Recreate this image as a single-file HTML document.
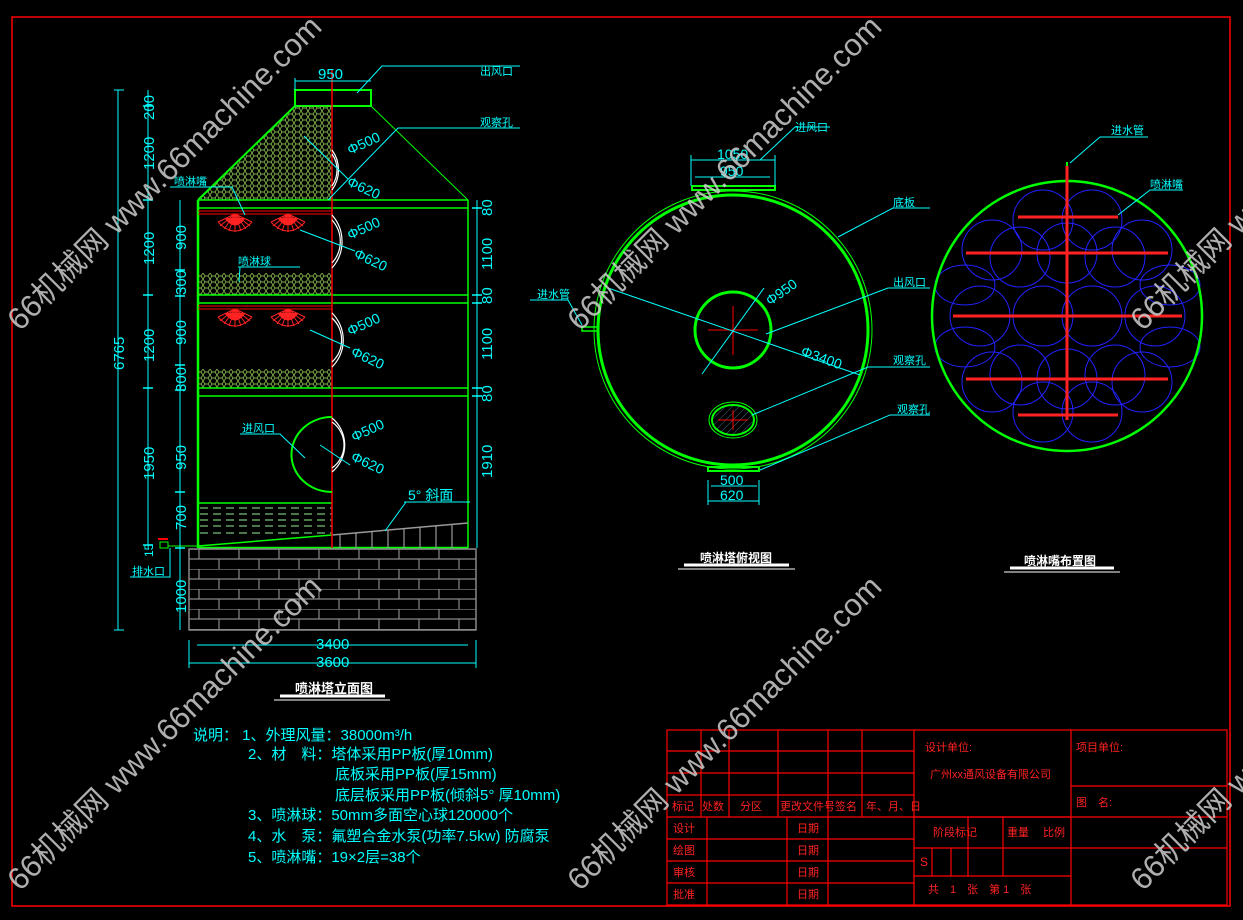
<!DOCTYPE html>
<html><head><meta charset="utf-8"><style>
html,body{margin:0;padding:0;background:#000;}
svg{display:block;}
text{font-family:"Liberation Sans","Noto Sans CJK SC",sans-serif;}
</style></head><body>
<svg width="1243" height="920" viewBox="0 0 1243 920" xmlns="http://www.w3.org/2000/svg">
<defs>
<pattern id="hex" width="7" height="6" patternUnits="userSpaceOnUse">
<path d="M0 3 L2 0 L5 0 L7 3 L5 6 L2 6 Z" fill="none" stroke="#7fb04a" stroke-width="0.9"/>
</pattern>
<pattern id="brick" width="40" height="20" patternUnits="userSpaceOnUse" x="189" y="549">
<path d="M0 0 H40 M0 10 H40 M10 0 V10 M30 10 V20" stroke="#888" stroke-width="1.2" fill="none"/>
</pattern>
<pattern id="hatch" width="5" height="5" patternUnits="userSpaceOnUse" patternTransform="rotate(45)">
<line x1="0" y1="0" x2="0" y2="5" stroke="#4a7f9a" stroke-width="0.8"/>
</pattern>
<g id="fan" stroke="#f22" stroke-width="1">
<line x1="0" y1="0" x2="-17" y2="8"/><line x1="0" y1="0" x2="-15" y2="12"/><line x1="0" y1="0" x2="-11" y2="15"/><line x1="0" y1="0" x2="-6" y2="17"/><line x1="0" y1="0" x2="0" y2="18"/><line x1="0" y1="0" x2="6" y2="17"/><line x1="0" y1="0" x2="11" y2="15"/><line x1="0" y1="0" x2="15" y2="12"/><line x1="0" y1="0" x2="17" y2="8"/>
<path d="M-17 8 Q0 26 17 8" fill="none"/><path d="M-10 4 Q0 18 10 4" fill="#f22"/>
</g>
</defs>
<rect width="1243" height="920" fill="#000"/>
<rect x="12" y="17" width="1218" height="889" fill="none" stroke="#f00" stroke-width="1.5"/>

<!-- ELEVATION -->
<g fill="none">
<rect x="295" y="90" width="76" height="16" stroke="#0f0" stroke-width="2"/>
<polygon points="295,106 332,106 332,200 198,200" fill="url(#hex)"/>
<line x1="295" y1="106" x2="198" y2="200" stroke="#0f0" stroke-width="2"/>
<line x1="371" y1="106" x2="468" y2="200" stroke="#0f0" stroke-width="1"/>
<line x1="198" y1="200" x2="198" y2="548" stroke="#0f0" stroke-width="2.5"/>
<line x1="468" y1="200" x2="468" y2="548" stroke="#0f0" stroke-width="1.5"/>
<rect x="198" y="273" width="134" height="22" fill="url(#hex)"/>
<rect x="198" y="369" width="134" height="19" fill="url(#hex)"/>
<g stroke="#0f0" stroke-width="1.5">
<line x1="198" y1="200" x2="468" y2="200"/><line x1="198" y1="208" x2="468" y2="208"/>
<line x1="198" y1="295" x2="468" y2="295"/><line x1="198" y1="303" x2="468" y2="303"/>
<line x1="198" y1="388" x2="468" y2="388"/><line x1="198" y1="396" x2="468" y2="396"/>
<line x1="198" y1="503" x2="332" y2="503"/>
<line x1="198" y1="548" x2="468" y2="548" stroke-width="2.5"/>
<path d="M198 546 L332 535"/>
</g>
<g stroke="#9e9" stroke-width="1" stroke-dasharray="8,5">
<line x1="200" y1="508" x2="332" y2="508"/><line x1="200" y1="514" x2="332" y2="514"/>
<line x1="200" y1="520" x2="332" y2="520"/><line x1="200" y1="526" x2="332" y2="526"/>
<line x1="200" y1="533" x2="332" y2="533"/>
</g>
<path d="M332 535 L468 523" stroke="#999" stroke-width="1.5"/>
<g stroke="#999" stroke-width="1.2">
<line x1="340" y1="534" x2="340" y2="548"/><line x1="356" y1="533" x2="356" y2="548"/><line x1="372" y1="531" x2="372" y2="548"/><line x1="388" y1="530" x2="388" y2="548"/><line x1="404" y1="529" x2="404" y2="548"/><line x1="420" y1="527" x2="420" y2="548"/><line x1="436" y1="526" x2="436" y2="548"/><line x1="452" y1="524" x2="452" y2="548"/>
</g>
<line x1="332" y1="70" x2="332" y2="548" stroke="#f00" stroke-width="1.5"/>
<g stroke="#f00" stroke-width="1"><line x1="198" y1="211" x2="332" y2="211"/><line x1="198" y1="214" x2="332" y2="214"/><line x1="198" y1="306" x2="332" y2="306"/><line x1="198" y1="309" x2="332" y2="309"/></g>
<use href="#fan" x="235" y="214"/><use href="#fan" x="288" y="214"/>
<use href="#fan" x="235" y="309"/><use href="#fan" x="288" y="309"/>
<g stroke="#fff" stroke-width="1.2">
<path d="M332 154 A28 28 0 0 1 332 186"/><path d="M332 150 A34 34 0 0 1 332 190"/>
<path d="M332 220 A32 32 0 0 1 332 263"/><path d="M332 215 A40 40 0 0 1 332 268"/>
<path d="M332 318 A30 30 0 0 1 332 362"/><path d="M332 313 A38 38 0 0 1 332 367"/>
<path d="M332 422 A28 28 0 0 1 332 468"/><path d="M332 418 A35 35 0 0 1 332 472"/>
</g>
<path d="M332 417 A40 37 0 0 0 332 492" stroke="#0f0" stroke-width="2"/>
<rect x="189" y="549" width="287" height="81" fill="url(#brick)" stroke="#888" stroke-width="1.5"/>
<rect x="160" y="542" width="8" height="6" stroke="#0f0"/><line x1="158" y1="539" x2="168" y2="539" stroke="#f00" stroke-width="2"/>
<line x1="168" y1="546" x2="198" y2="546" stroke="#0f0"/>
</g>
<!-- dims elevation -->
<g stroke="#0ff" stroke-width="1" fill="none">
<line x1="118" y1="90" x2="118" y2="630"/><line x1="114" y1="90" x2="124" y2="90"/><line x1="114" y1="630" x2="124" y2="630"/>
<line x1="148" y1="90" x2="148" y2="545"/>
<line x1="180" y1="200" x2="180" y2="630"/>
<line x1="477" y1="200" x2="477" y2="548"/>
<line x1="197" y1="645" x2="468" y2="645"/><line x1="189" y1="663" x2="476" y2="663"/>
<line x1="189" y1="640" x2="189" y2="668"/><line x1="476" y1="640" x2="476" y2="668"/>
<line x1="295" y1="81" x2="371" y2="81"/><line x1="295" y1="78" x2="295" y2="90"/>
<polyline points="357,93 382,66 520,66"/><polyline points="328,200 398,128 520,128"/>
<polyline points="170,187 232,187 245,215"/><polyline points="238,267 300,267"/><line x1="240" y1="267" x2="239" y2="282"/>
<polyline points="240,434 280,434 305,458"/><polyline points="404,502 470,502"/><line x1="406" y1="502" x2="385" y2="531"/>
<polyline points="130,577 170,577 170,548"/>
<line x1="304" y1="136" x2="348" y2="179"/><line x1="300" y1="230" x2="355" y2="251"/><line x1="310" y1="330" x2="350" y2="348"/><line x1="320" y1="445" x2="350" y2="465"/>
</g>
<g stroke="#0ff" stroke-width="1.5">
<line x1="143" y1="106" x2="153" y2="106"/><line x1="143" y1="200" x2="153" y2="200"/><line x1="143" y1="295" x2="153" y2="295"/><line x1="143" y1="388" x2="153" y2="388"/><line x1="143" y1="545" x2="153" y2="545"/>
<line x1="175" y1="270" x2="185" y2="270"/><line x1="175" y1="296" x2="185" y2="296"/><line x1="175" y1="365" x2="185" y2="365"/><line x1="175" y1="390" x2="185" y2="390"/><line x1="175" y1="492" x2="185" y2="492"/><line x1="175" y1="548" x2="185" y2="548"/>
<line x1="472" y1="208" x2="482" y2="208"/><line x1="472" y1="295" x2="482" y2="295"/><line x1="472" y1="303" x2="482" y2="303"/><line x1="472" y1="388" x2="482" y2="388"/><line x1="472" y1="396" x2="482" y2="396"/>
</g>
<g fill="#0ff" font-size="15">
<g transform="rotate(-90)">
<text x="-370" y="124">6765</text><text x="-120" y="154">200</text><text x="-170" y="154">1200</text><text x="-265" y="154">1200</text><text x="-362" y="154">1200</text><text x="-480" y="154">1950</text><text x="-557" y="153" font-size="12">15</text>
<text x="-250" y="186">900</text><text x="-295" y="186">300</text><text x="-345" y="186">900</text><text x="-392" y="186">300</text><text x="-470" y="186">950</text><text x="-530" y="186">700</text><text x="-613" y="186">1000</text>
<text x="-216" y="492">80</text><text x="-270" y="492">1100</text><text x="-304" y="492">80</text><text x="-360" y="492">1100</text><text x="-402" y="492">80</text><text x="-478" y="492">1910</text>
</g>
<text x="318" y="79">950</text><text x="316" y="649">3400</text><text x="316" y="667">3600</text>
<text x="408" y="500" font-size="14">5° 斜面</text>
<g font-size="11"><text x="480" y="75">出风口</text><text x="480" y="126">观察孔</text><text x="174" y="185">喷淋嘴</text><text x="238" y="265">喷淋球</text><text x="242" y="432">进风口</text><text x="132" y="575">排水口</text></g>
<g font-size="14">
<text x="350" y="155" transform="rotate(-25 350 155)">Φ500</text><text x="346" y="185" transform="rotate(25 346 185)">Φ620</text>
<text x="350" y="240" transform="rotate(-25 350 240)">Φ500</text><text x="353" y="257" transform="rotate(25 353 257)">Φ620</text>
<text x="350" y="336" transform="rotate(-25 350 336)">Φ500</text><text x="350" y="355" transform="rotate(25 350 355)">Φ620</text>
<text x="354" y="442" transform="rotate(-25 354 442)">Φ500</text><text x="350" y="460" transform="rotate(25 350 460)">Φ620</text>
</g>
</g>
<text x="295" y="693" fill="#fff" font-size="13" font-weight="bold">喷淋塔立面图</text>
<line x1="280" y1="696" x2="385" y2="696" stroke="#fff" stroke-width="3"/><line x1="274" y1="700" x2="390" y2="700" stroke="#fff" stroke-width="1"/>

<!-- TOP VIEW -->
<g fill="none" stroke="#0f0">
<circle cx="733" cy="330" r="135" stroke-width="3"/>
<circle cx="733" cy="330" r="139" stroke-width="1"/>
<circle cx="733" cy="330" r="38" stroke-width="3"/>
<rect x="692" y="186" width="83" height="4" stroke-width="2"/>
<rect x="708" y="467" width="51" height="4" stroke-width="2"/>
<ellipse cx="733" cy="420" rx="21" ry="15" fill="url(#hatch)" stroke-width="2"/>
<ellipse cx="733" cy="420" rx="24" ry="18" stroke-width="1"/>
<rect x="582" y="327" width="16" height="4" stroke-width="1.5"/>
</g>
<g stroke="#f00" stroke-width="1"><line x1="708" y1="330" x2="758" y2="330"/><line x1="733" y1="306" x2="733" y2="355"/><line x1="718" y1="420" x2="748" y2="420"/><line x1="733" y1="410" x2="733" y2="430"/></g>
<g stroke="#0ff" stroke-width="1" fill="none">
<line x1="691" y1="160" x2="775" y2="160"/><line x1="695" y1="177" x2="770" y2="177"/>
<line x1="691" y1="155" x2="691" y2="186"/><line x1="775" y1="155" x2="775" y2="186"/>
<polyline points="760,160 795,127 830,127"/>
<line x1="608" y1="288" x2="860" y2="375"/><line x1="702" y1="374" x2="764" y2="288"/>
<polyline points="838,237 893,208 930,208"/><polyline points="766,334 888,288 930,288"/>
<polyline points="752,415 868,367 930,367"/><polyline points="760,470 890,415 930,415"/>
<polyline points="530,300 568,300 582,325"/>
<line x1="711" y1="486" x2="757" y2="486"/><line x1="708" y1="501" x2="759" y2="501"/>
<line x1="708" y1="480" x2="708" y2="505"/><line x1="759" y1="480" x2="759" y2="505"/>
</g>
<g fill="#0ff" font-size="14">
<text x="717" y="159">1050</text><text x="720" y="176">950</text>
<text x="720" y="485">500</text><text x="720" y="500">620</text>
<text x="770" y="306" transform="rotate(-35 770 306)">Φ950</text>
<text x="800" y="355" transform="rotate(20 800 355)">Φ3400</text>
<g font-size="11"><text x="795" y="131">进风口</text><text x="893" y="206">底板</text><text x="893" y="286">出风口</text><text x="893" y="364">观察孔</text><text x="897" y="413">观察孔</text><text x="537" y="298">进水管</text></g>
</g>
<text x="700" y="562" fill="#fff" font-size="12" font-weight="bold">喷淋塔俯视图</text>
<line x1="684" y1="565" x2="789" y2="565" stroke="#fff" stroke-width="3"/><line x1="678" y1="569" x2="795" y2="569" stroke="#fff"/>

<!-- SPRAY LAYOUT -->
<g fill="none" stroke="#22f" stroke-width="1">
<circle cx="1043" cy="220" r="30"/><circle cx="1092" cy="220" r="30"/>
<circle cx="992" cy="250" r="30"/><circle cx="1142" cy="250" r="30"/>
<circle cx="1020" cy="257" r="30"/><circle cx="1115" cy="257" r="30"/><circle cx="1067" cy="253" r="30"/>
<ellipse cx="965" cy="285" rx="30" ry="20"/><ellipse cx="1170" cy="285" rx="30" ry="20"/>
<circle cx="980" cy="316" r="30"/><circle cx="1043" cy="316" r="30"/><circle cx="1092" cy="316" r="30"/><circle cx="1155" cy="316" r="30"/>
<ellipse cx="965" cy="347" rx="30" ry="20"/><ellipse cx="1170" cy="347" rx="30" ry="20"/>
<circle cx="1020" cy="375" r="30"/><circle cx="1115" cy="375" r="30"/><circle cx="1067" cy="379" r="30"/>
<circle cx="992" cy="382" r="30"/><circle cx="1142" cy="382" r="30"/>
<circle cx="1043" cy="412" r="30"/><circle cx="1092" cy="412" r="30"/>
</g>
<circle cx="1067" cy="316" r="135" fill="none" stroke="#0f0" stroke-width="2.5"/>
<line x1="1067" y1="162" x2="1067" y2="182" stroke="#0f0" stroke-width="2"/>
<g stroke="#f22" stroke-width="3">
<line x1="1067" y1="166" x2="1067" y2="420"/>
<line x1="1018" y1="217" x2="1118" y2="217"/><line x1="966" y1="253" x2="1168" y2="253"/>
<line x1="953" y1="316" x2="1182" y2="316"/><line x1="966" y1="379" x2="1168" y2="379"/>
<line x1="1018" y1="415" x2="1118" y2="415"/>
</g>
<g stroke="#0ff" fill="none"><polyline points="1070,163 1100,137 1148,137"/><polyline points="1118,215 1150,190 1183,190"/></g>
<g fill="#0ff" font-size="11"><text x="1111" y="134">进水管</text><text x="1150" y="188">喷淋嘴</text></g>
<text x="1024" y="565" fill="#fff" font-size="12" font-weight="bold">喷淋嘴布置图</text>
<line x1="1010" y1="568" x2="1114" y2="568" stroke="#fff" stroke-width="3"/><line x1="1004" y1="572" x2="1120" y2="572" stroke="#fff"/>

<!-- NOTES -->
<g fill="#0ff" font-size="15">
<text x="193" y="740">说明：  1、外理风量：38000m³/h</text>
<text x="248" y="759">2、材　料：塔体采用PP板(厚10mm)</text>
<text x="335" y="779">底板采用PP板(厚15mm)</text>
<text x="335" y="800">底层板采用PP板(倾斜5° 厚10mm)</text>
<text x="248" y="820">3、喷淋球：50mm多面空心球120000个</text>
<text x="248" y="841">4、水　泵：氟塑合金水泵(功率7.5kw) 防腐泵</text>
<text x="248" y="862">5、喷淋嘴：19×2层=38个</text>
</g>

<!-- TITLE BLOCK -->
<g stroke="#f00" stroke-width="1.2" fill="none">
<rect x="667" y="730" width="560" height="175"/>
<line x1="667" y1="751" x2="914" y2="751"/><line x1="667" y1="773" x2="914" y2="773"/><line x1="667" y1="795" x2="914" y2="795"/><line x1="667" y1="817" x2="1227" y2="817"/>
<line x1="667" y1="839" x2="914" y2="839"/><line x1="667" y1="861" x2="914" y2="861"/><line x1="667" y1="883" x2="914" y2="883"/>
<line x1="701" y1="730" x2="701" y2="817"/><line x1="729" y1="730" x2="729" y2="817"/><line x1="778" y1="730" x2="778" y2="817"/><line x1="828" y1="730" x2="828" y2="817"/><line x1="862" y1="730" x2="862" y2="817"/>
<line x1="707" y1="817" x2="707" y2="905"/><line x1="787" y1="817" x2="787" y2="905"/><line x1="828" y1="817" x2="828" y2="905"/>
<line x1="914" y1="730" x2="914" y2="905"/><line x1="1071" y1="730" x2="1071" y2="905"/>
<line x1="914" y1="817" x2="1071" y2="817"/><line x1="914" y1="848" x2="1227" y2="848"/><line x1="914" y1="876" x2="1071" y2="876"/>
<line x1="1071" y1="786" x2="1227" y2="786"/>
<line x1="968" y1="817" x2="968" y2="876"/><line x1="1003" y1="817" x2="1003" y2="876"/>
<line x1="932" y1="848" x2="932" y2="876"/><line x1="951" y1="848" x2="951" y2="876"/>
</g>
<g fill="#f22" font-size="11">
<text x="672" y="810">标记</text><text x="702" y="810">处数</text><text x="740" y="810">分区</text><text x="780" y="810">更改文件号</text><text x="835" y="810">签名</text><text x="866" y="810">年、月、日</text>
<text x="673" y="832">设计</text><text x="673" y="854">绘图</text><text x="673" y="876">审核</text><text x="673" y="898">批准</text>
<text x="797" y="832">日期</text><text x="797" y="854">日期</text><text x="797" y="876">日期</text><text x="797" y="898">日期</text>
<text x="925" y="751">设计单位:</text><text x="930" y="778">广州xx通风设备有限公司</text>
<text x="1076" y="751">项目单位:</text><text x="1076" y="806">图　名:</text>
<text x="933" y="836">阶段标记</text><text x="1007" y="836">重量</text><text x="1043" y="836">比例</text>
<text x="920" y="866" font-size="12">S</text>
<text x="928" y="893">共　1　张　第 1　张</text>
</g>

<!-- WATERMARKS -->
<g fill="#ccc" fill-opacity="0.85" font-size="31">
<text x="20" y="332" transform="rotate(-45 20 332)">66机械网 www.66machine.com</text>
<text x="580" y="332" transform="rotate(-45 580 332)">66机械网 www.66machine.com</text>
<text x="20" y="892" transform="rotate(-45 20 892)">66机械网 www.66machine.com</text>
<text x="580" y="892" transform="rotate(-45 580 892)">66机械网 www.66machine.com</text>
<text x="1143" y="332" transform="rotate(-45 1143 332)">66机械网 www.66machine.com</text>
<text x="1143" y="892" transform="rotate(-45 1143 892)">66机械网 www.66machine.com</text>
</g>
</svg>
</body></html>
